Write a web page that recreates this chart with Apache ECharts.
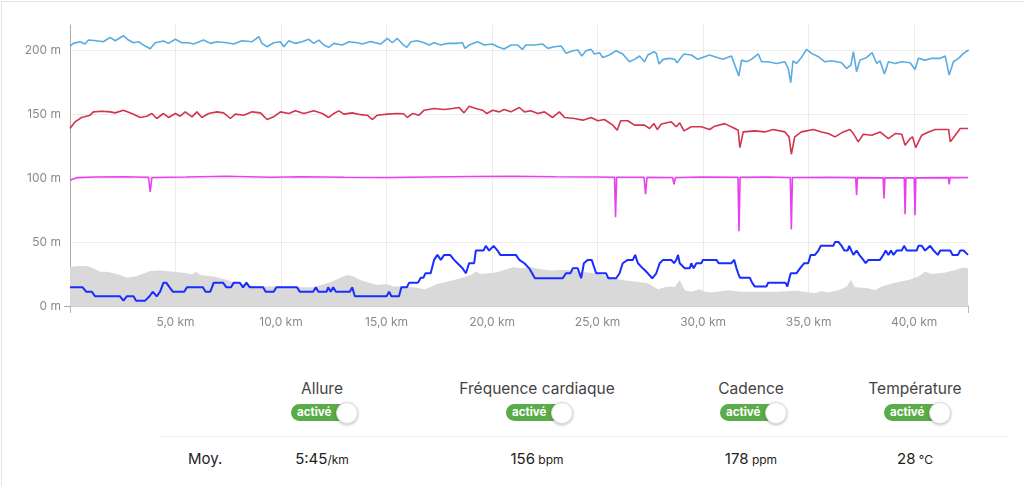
<!DOCTYPE html>
<html>
<head>
<meta charset="utf-8">
<script src="https://cdn.jsdelivr.net/npm/echarts@6.0.0/dist/echarts.min.js"></script>
<style>
  html, body { margin:0; padding:0; background:#fff; }
  body { width:1024px; height:486px; position:relative; overflow:hidden; font-family: Inter, "Liberation Sans", Arial, sans-serif; }
  #card { position:absolute; left:1px; top:1px; width:1100px; height:600px; border-top:1px solid #e4e4e8; border-left:1px solid #e4e4e8; }
  #chart { position:absolute; left:0; top:0; width:1024px; height:340px; }
  .col { position:absolute; width:200px; text-align:center; }
  .hdr { top:379px; font-size:15.5px; color:#444; }
  .tg { position:absolute; top:404px; width:66px; height:17px; border-radius:9px; background:#5aac48; }
  .tg span { position:absolute; left:6px; top:0px; line-height:17px; font-size:11.5px; font-weight:700; color:#fff; }
  .tg i { position:absolute; right:-1px; top:-2px; width:20px; height:20px; border-radius:50%; background:#fff; border:1px solid #ddd; box-shadow:0 1px 3px rgba(0,0,0,0.25); }
  #sep { position:absolute; left:159px; top:436px; width:848px; height:1px; background:#eeeeee; }
  .val { top:449px; font-size:15px; color:#222; }
  .val small { font-size:12px; }
  #moy { position:absolute; left:188px; top:449px; font-size:15px; color:#222; }
</style>
</head>
<body>
<div id="card"></div>
<div id="chart"></div>
<div id="bottom"></div>
<script>
// ---- data (x = km, y = chart value in "m") ----
const xTickStep = 5;
const xMax = 42.55;
const yTicks = [0, 50, 100, 150, 200];
const yMax = 220;

const columns = ['Allure', 'Fréquence cardiaque', 'Cadence', 'Température'];
const averages = [['5:45', '/km'], ['156', ' bpm'], ['178', ' ppm'], ['28', ' °C']];
const toggleText = 'activé';
const rowLabel = 'Moy.';

const elevation = [
  [0,30.8],[0.48,31.4],[0.79,31.4],[1.11,29.5],[1.42,26.9],[1.74,26.9],[2.06,25.6],[2.37,24.3],[2.69,22.2],
  [3.17,23.5],[3.8,27.4],[4.27,27.7],[4.91,26.9],[5.38,26.1],[5.78,24.9],[5.98,26.9],[6.17,24.3],[6.81,23.0],
  [7.44,20.4],[7.91,17.8],[8.39,16.5],[9.02,15.2],[9.65,15.2],[10.6,14.6],[11.55,14.6],[12.19,17.8],[12.66,20.9],
  [13.14,24.3],[13.45,23.0],[13.77,20.2],[14.25,17.8],[14.56,16.5],[15.0,17.3],[15.35,15.2],[15.83,15.2],
  [16.3,14.6],[16.78,13.1],[16.94,13.9],[17.41,17.3],[17.89,19.2],[18.52,21.7],[19.0,24.3],[19.23,26.9],
  [19.47,25.1],[20.1,26.1],[20.58,28.2],[20.97,30.3],[21.37,29.5],[21.84,30.3],[22.32,28.8],[22.79,27.7],
  [23.27,28.2],[23.74,28.2],[24.22,26.9],[24.85,25.6],[25.48,23.0],[26.11,20.4],[26.75,19.2],[27.38,17.8],
  [27.86,13.1],[28.17,14.6],[28.49,15.2],[28.65,14.6],[28.89,20.4],[29.13,12.4],[29.44,11.2],[29.84,13.1],
  [30.07,11.2],[30.39,10.5],[31.18,12.4],[31.82,11.2],[32.77,11.2],[33.55,11.2],[34.35,12.0],[34.82,11.2],
  [35.3,10.0],[35.61,11.7],[35.93,10.5],[36.41,12.4],[36.8,15.2],[37.0,20.4],[37.19,14.6],[37.83,13.9],
  [38.14,12.4],[38.46,15.2],[39.1,18.3],[39.73,20.4],[40.2,23.0],[40.52,26.9],[40.84,25.1],[41.47,26.2],
  [41.95,28.2],[42.34,30.2],[42.55,29.5]
];

const pace = [
  [0,14.6],[0.6,14.6],[0.76,11.2],[1.03,11.2],[1.19,7.6],[2.37,7.6],[2.53,4.2],[2.69,7.6],[3.01,7.6],[3.13,4.2],
  [3.56,4.2],[3.77,7.6],[3.92,11.2],[4.11,7.6],[4.27,11.2],[4.43,18.3],[4.56,18.3],[4.72,14.6],[4.87,11.2],
  [5.41,11.2],[5.54,14.6],[6.3,14.6],[6.42,11.2],[6.65,11.2],[6.81,18.3],[7.25,18.3],[7.41,14.6],[7.63,14.6],
  [7.76,18.3],[8.04,18.3],[8.2,14.6],[8.36,18.3],[8.52,14.6],[9.15,14.6],[9.27,11.2],[9.65,11.2],[9.78,14.6],
  [10.76,14.6],[10.89,11.2],[11.52,11.2],[11.65,14.6],[11.77,11.2],[12.16,11.2],[12.23,14.6],[12.35,11.2],
  [12.47,14.6],[12.6,11.2],[13.26,11.2],[13.37,14.6],[13.5,7.6],[15.0,7.6],[15.12,11.2],[15.23,7.6],[15.59,7.6],
  [15.7,14.6],[15.96,14.6],[16.07,18.3],[16.49,18.3],[16.62,22.2],[16.75,22.2],[16.84,25.6],[17.09,25.6],
  [17.25,36.1],[17.41,40],[17.57,36.1],[17.73,40],[18.01,40],[18.2,36.1],[18.36,33.5],[18.6,29.5],[18.76,25.6],
  [18.91,33.5],[19.15,33.5],[19.23,43.4],[19.59,43.4],[19.7,47.1],[19.86,43.4],[20.07,47.1],[20.26,43.4],
  [20.39,40],[21.13,40],[21.29,36.1],[21.53,33.5],[21.76,29.5],[22.03,21.7],[23.35,21.7],[23.5,25.6],
  [23.71,25.6],[23.82,29.5],[24.06,29.5],[24.22,21.7],[24.35,33.5],[24.53,36.1],[24.72,36.1],[24.93,25.6],
  [25.4,25.6],[25.51,21.7],[25.88,21.7],[26.04,25.6],[26.19,33.5],[26.43,36.1],[26.67,36.1],[26.78,40],
  [26.91,33.5],[27.14,29.5],[27.38,25.6],[27.59,21.7],[27.78,25.6],[27.94,33.5],[28.1,36.1],[28.49,36.1],
  [28.62,33.5],[28.73,36.1],[28.81,40],[28.89,33.5],[29.13,29.5],[29.36,29.5],[29.44,33.5],[29.55,29.5],
  [29.68,33.5],[29.92,33.5],[29.99,36.1],[30.63,36.1],[30.74,33.5],[31.34,33.5],[31.47,36.1],[31.58,29.5],
  [31.66,25.6],[31.74,22.2],[32.21,22.2],[32.32,18.3],[32.45,15.2],[33.0,15.2],[33.08,18.3],[33.9,18.3],
  [33.99,15.2],[34.15,25.6],[34.42,25.6],[34.59,29.5],[34.79,33.5],[34.98,33.5],[35.09,40],[35.3,40],
  [35.46,43.4],[35.58,47.1],[36.17,47.1],[36.25,50.2],[36.41,50.2],[36.56,47.1],[36.69,43.4],[36.85,43.4],
  [36.92,47.1],[37.12,40],[37.27,43.4],[37.4,40],[37.59,36.1],[37.7,33.5],[37.83,36.1],[38.38,36.1],
  [38.54,40],[38.65,43.4],[38.78,40],[38.9,43.4],[39.02,40],[39.17,43.4],[39.41,43.4],[39.52,47.1],
  [39.65,43.4],[40.12,43.4],[40.2,47.1],[40.36,47.1],[40.52,43.4],[40.76,47.1],[40.92,43.4],[41.12,40],
  [41.23,43.4],[41.71,43.4],[41.82,40],[42.07,40],[42.18,43.4],[42.34,43.4],[42.55,40]
];

const cadence = [
  [0,98.4],[0.32,100.5],[1.2,101],[2.5,101.2],[3.72,100.8],[3.8,89.3],[3.88,100.6],[5.5,101],[7.4,101.6],
  [9.5,100.8],[11,101.2],[13,100.8],[15,100.6],[17,101],[19,101.4],[21,101.6],[23,101.2],[25,101],
  [25.8,100.8],[25.85,69.5],[25.9,100.8],[27.2,100.8],[27.27,87.5],[27.34,100.8],[28.55,100.6],[28.62,95.3],
  [28.69,100.6],[30,101],[31.65,100.8],[31.7,58.5],[31.75,100.8],[33,101],[34.13,100.6],[34.18,60],
  [34.23,100.6],[36,100.8],[37.23,100.5],[37.27,86.7],[37.31,100.5],[38.53,100.3],[38.57,84.1],[38.61,100.3],
  [39.53,100.3],[39.57,71.8],[39.61,100.3],[40.0,100.3],[40.04,71],[40.08,100.3],[41.62,100.5],[41.66,95.3],
  [41.7,100.5],[42.55,100.6]
];

const heartRate = [
  [0,139],[0.24,144.2],[0.55,147.6],[0.95,149.4],[1.11,152],[1.5,152.5],[1.9,152],[2.14,151.2],[2.53,153.3],
  [2.93,150.7],[3.33,147.6],[3.64,148.6],[3.88,150.7],[4.11,146.8],[4.43,150.7],[4.67,147.6],[4.99,150.7],
  [5.22,148.6],[5.46,152],[5.78,148.1],[6.01,152],[6.25,147.6],[6.57,150.7],[6.96,152],[7.28,151.2],
  [7.6,146.8],[7.83,150.2],[8.23,149.4],[8.63,152],[9.02,151.2],[9.34,146],[9.65,148.1],[9.97,152],
  [10.37,150.7],[10.68,152.8],[11.08,150.7],[11.55,152.8],[11.95,150.7],[12.26,147.6],[12.5,150.7],
  [12.74,152.8],[12.98,150.2],[13.37,151.2],[13.77,149.8],[14.09,149.4],[14.32,146],[14.56,149.4],
  [15.04,150.2],[15.51,150.7],[15.8,150.5],[15.99,147.6],[16.23,150.7],[16.54,149.4],[16.78,153.3],
  [17.25,154.6],[17.73,153.9],[18.12,154.6],[18.44,155.4],[18.67,151.2],[18.91,156.4],[19.23,154.6],
  [19.55,153.3],[19.75,150.7],[20.02,153.3],[20.34,152],[20.57,153.9],[20.89,152],[21.29,155.4],[21.53,152],
  [21.84,152.8],[22.16,150.7],[22.48,152],[22.87,147.6],[23.19,152],[23.43,147.6],[23.9,146.8],[24.3,145.5],
  [24.69,147.6],[25.01,145],[25.32,146],[25.72,141.6],[25.93,137.6],[26.09,145],[26.43,145],[26.75,141.6],
  [27.22,141.6],[27.46,139],[27.67,142.8],[27.83,138.2],[28.02,142.5],[28.49,144.2],[28.73,140.3],
  [28.89,143.4],[29.09,137.1],[29.44,140.3],[29.92,140.3],[30.31,138.2],[30.55,140.8],[31.02,142.8],
  [31.5,139],[31.66,137.6],[31.74,124],[31.9,136.3],[32.45,137.1],[32.92,136.3],[33.32,138.2],[33.87,136.3],
  [34.07,132.4],[34.18,118.8],[34.34,132.4],[34.66,136.3],[35.22,138.2],[35.61,136.3],[35.93,135],
  [36.25,132.4],[36.64,136.3],[36.96,138.2],[37.12,135],[37.35,128.5],[37.59,134.5],[37.99,133.7],
  [38.38,136.3],[38.78,131.1],[39.1,135],[39.41,134.5],[39.57,125.9],[39.81,131.1],[39.92,132.5],[40.07,124],
  [40.36,133.7],[40.68,136.3],[41.0,138.2],[41.63,138.2],[41.71,128.5],[41.91,132.9],[42.18,139],[42.55,139]
];

const temperature = [
  [0,203.5],[0.16,205.6],[0.47,206.9],[0.71,205.1],[0.87,208.2],[1.27,207.7],[1.58,206.9],[1.9,210.3],
  [2.14,207.7],[2.53,211.6],[2.77,208.2],[3.01,206.1],[3.25,206.9],[3.48,204.3],[3.8,201.4],[4.04,206.1],
  [4.43,207.5],[4.67,205.6],[4.99,208.8],[5.3,206.1],[5.62,206.1],[5.86,205.1],[6.33,208.2],[6.65,205.6],
  [6.96,206.9],[7.44,206.1],[7.76,205.1],[8.15,207.7],[8.63,206.9],[8.78,208.8],[8.94,210.9],[9.1,205.6],
  [9.34,203.0],[9.65,206.1],[9.97,206.9],[10.13,203.0],[10.37,207.7],[10.68,205.6],[11.0,206.9],
  [11.31,208.8],[11.55,205.6],[11.79,208.2],[12.03,204.3],[12.26,202.5],[12.5,205.6],[12.9,204.3],
  [13.22,206.9],[13.61,206.1],[13.85,205.1],[14.25,207.0],[14.72,205.1],[15.04,209.5],[15.27,206.1],
  [15.51,209.5],[15.75,205.1],[15.96,202.5],[16.15,206.9],[16.46,207.7],[16.78,206.1],[17.02,204.3],
  [17.25,206.1],[17.57,204.3],[17.89,205.6],[18.28,205.6],[18.6,206.1],[18.71,201.7],[18.91,204.3],
  [19.31,206.9],[19.63,204.3],[20.02,205.1],[20.26,203.0],[20.57,201.2],[20.89,204.3],[21.21,204.3],
  [21.44,200.9],[21.6,204.3],[22.0,204.3],[22.4,205.1],[22.64,201.7],[22.95,203.0],[23.27,203.5],
  [23.51,197.8],[23.82,199.9],[24.06,200.4],[24.25,195.7],[24.45,199.9],[24.69,200.9],[24.85,197.3],
  [25.09,198.3],[25.24,194.6],[25.56,196.5],[25.88,199.9],[26.19,197.3],[26.51,191.2],[26.75,193.1],
  [26.99,195.7],[27.22,191.2],[27.38,196.5],[27.67,199.1],[27.78,197.8],[27.91,189.4],[28.1,193.1],
  [28.41,193.9],[28.65,193.1],[28.77,190.5],[28.89,193.1],[29.09,197.3],[29.44,196.5],[29.75,193.1],
  [30.07,195.2],[30.31,196.5],[30.55,195.2],[30.94,193.1],[31.34,195.7],[31.5,188.6],[31.69,180],
  [31.82,192.5],[32.05,191.2],[32.29,193.1],[32.61,197.3],[32.77,191.2],[33.08,191.2],[33.48,189.9],
  [33.87,191.2],[34.03,186],[34.15,174.8],[34.26,192],[34.42,189.9],[34.66,194.6],[34.9,200.9],
  [35.14,197.8],[35.46,195.2],[35.77,191.2],[36.09,192],[36.56,190.5],[36.8,186],[37.0,188.6],[37.12,199.1],
  [37.27,183.4],[37.43,192.5],[37.75,194.6],[38.01,198.3],[38.22,189.9],[38.38,192],[38.59,181.6],
  [38.78,191.2],[39.1,189.9],[39.41,191.2],[39.81,190.5],[40.04,185.2],[40.2,193.9],[40.52,192.5],
  [40.84,193.9],[41.23,193.9],[41.47,195.7],[41.66,180.8],[41.86,191.2],[42.1,193.9],[42.34,197.8],
  [42.58,200.4]
];

// ---- chart ----
const chart = echarts.init(document.getElementById('chart'), null, { renderer: 'canvas' });
const FONT = 'Inter, "Liberation Sans", Arial, sans-serif';
function lineSeries(data, color, width, z) {
  return { type: 'line', data: data, symbol: 'none', showSymbol: false, z: z,
           lineStyle: { color: color, width: width }, emphasis: { disabled: true } };
}
chart.setOption({
  animation: false,
  grid: { left: 70, right: 56, top: 25, bottom: 34 },
  xAxis: [{
    type: 'value', min: 0, max: xMax, interval: xTickStep,
    axisLine: { show: true, lineStyle: { color: '#c4c4c4', width: 1.5 } },
    axisTick: { show: false },
    axisLabel: {
      color: '#8a8a8a', fontSize: 12, fontFamily: FONT, margin: 10,
      showMinLabel: false, showMaxLabel: false,
      formatter: v => (v === 0 || v > 42.5) ? '' : v.toFixed(1).replace('.', ',') + ' km'
    },
    splitLine: { show: true, showMinLine: false, showMaxLine: false, lineStyle: { color: '#ececec', width: 1 } }
  }, {
    type: 'value', min: 0, max: xMax, position: 'bottom',
    axisLine: { show: false },
    axisTick: { show: true, customValues: [0, xMax], length: 7, lineStyle: { color: '#b8b8b8' } },
    axisLabel: { show: false },
    splitLine: { show: false }
  }],
  yAxis: [{
    type: 'value', min: 0, max: yMax, interval: 50,
    axisLine: { show: true, lineStyle: { color: '#aaaaaa', width: 1 } },
    axisTick: { show: false },
    axisLabel: {
      color: '#8a8a8a', fontSize: 12, fontFamily: FONT, margin: 9,
      formatter: v => (yTicks.indexOf(v) >= 0 ? v + ' m' : '')
    },
    splitLine: { show: true, showMinLine: false, showMaxLine: false, lineStyle: { color: '#ececec', width: 1 } }
  }, {
    type: 'value', min: 0, max: yMax, position: 'left',
    axisLine: { show: false },
    axisTick: { show: true, customValues: [0], length: 6, lineStyle: { color: '#aaaaaa' } },
    axisLabel: { show: false },
    splitLine: { show: false }
  }],
  series: [
    { type: 'line', data: elevation, symbol: 'none', z: 1, lineStyle: { width: 0, color: '#d9d9d9' },
      areaStyle: { color: '#d9d9d9', opacity: 1 }, emphasis: { disabled: true } },
    lineSeries(pace, '#1a2dff', 2, 2),
    lineSeries(cadence, '#e83ff0', 1.6, 3),
    lineSeries(heartRate, '#d2344f', 1.6, 4),
    lineSeries(temperature, '#5aace0', 1.6, 5)
  ]
});

// ---- bottom table ----
const centers = [322, 537, 751, 915];
const bottom = document.getElementById('bottom');
let html = '';
columns.forEach((c, i) => {
  const left = centers[i] - 100;
  html += '<div class="col hdr" style="left:' + left + 'px">' + c + '</div>';
  html += '<div class="tg" style="left:' + (centers[i] - 31) + 'px"><span>' + toggleText + '</span><i></i></div>';
  html += '<div class="col val" style="left:' + left + 'px">' + averages[i][0] + '<small>' + averages[i][1] + '</small></div>';
});
html += '<div id="sep"></div><div id="moy">' + rowLabel + '</div>';
bottom.innerHTML = html;
</script>
</body>
</html>
